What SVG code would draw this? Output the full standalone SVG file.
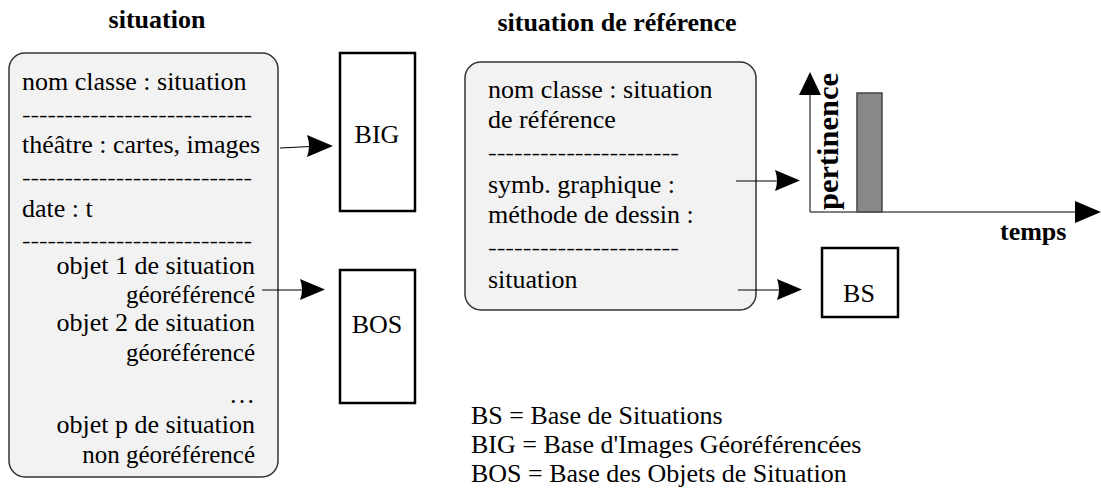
<svg xmlns="http://www.w3.org/2000/svg" width="1101" height="497" viewBox="0 0 1101 497" font-family="Liberation Serif, Times New Roman, serif" font-size="26">
<style>
.b{font-weight:bold}
.r{text-anchor:end}
.m{text-anchor:middle}
.g{font-size:25px}
.d{font-size:18px}
.cls{fill:#f2f2f2;stroke:#333;stroke-width:1.5}
.db{fill:#fff;stroke:#000;stroke-width:2.5}
.ln{stroke:#000;stroke-width:1.2;fill:none}
.ax{stroke:#555;stroke-width:1.5;fill:none}
.ah{fill:#000}
</style>
<rect width="1101" height="497" fill="#fff"/>
<text class="b m" x="157" y="28">situation</text>
<text class="b m" x="617" y="31">situation de référence</text>
<g id="situation">
<rect class="cls" x="9" y="53" width="269" height="424" rx="16"/>
<text x="22" y="90">nom classe : situation</text>
<text class="d" x="22" y="121" textLength="230" lengthAdjust="spacingAndGlyphs">---------------------------</text>
<text x="22" y="153">théâtre : cartes, images</text>
<text class="d" x="22" y="184" textLength="230" lengthAdjust="spacingAndGlyphs">---------------------------</text>
<text x="22" y="217">date : t</text>
<text class="d" x="22" y="247" textLength="230" lengthAdjust="spacingAndGlyphs">---------------------------</text>
<text class="r" x="255" y="274">objet 1 de situation</text>
<text class="r g" x="255" y="303">géoréférencé</text>
<text class="r" x="255" y="331">objet 2 de situation</text>
<text class="r g" x="255" y="361">géoréférencé</text>
<text class="r" x="255" y="403">…</text>
<text class="r" x="255" y="433">objet p de situation</text>
<text class="r g" x="255" y="463">non géoréférencé</text>
</g>
<g id="BIG">
<rect class="db" x="340" y="53" width="75" height="158"/>
<text class="m" x="377" y="143">BIG</text>
</g>
<g id="BOS">
<rect class="db" x="340" y="270" width="75" height="133"/>
<text class="m" x="377" y="333">BOS</text>
</g>
<g id="situation-de-reference">
<rect class="cls" x="465" y="62" width="291" height="248" rx="16"/>
<text x="488" y="98">nom classe : situation</text>
<text x="488" y="128">de référence</text>
<text class="d" x="488" y="159" textLength="191" lengthAdjust="spacingAndGlyphs">----------------------</text>
<text x="488" y="193">symb. graphique :</text>
<text x="488" y="223">méthode de dessin :</text>
<text class="d" x="488" y="254" textLength="191" lengthAdjust="spacingAndGlyphs">----------------------</text>
<text x="488" y="288">situation</text>
</g>
<g id="chart">
<rect x="857" y="93" width="25" height="119" fill="#888" stroke="#444" stroke-width="1.5"/>
<text class="b" transform="translate(838,210) rotate(-90)" font-size="30" textLength="137" lengthAdjust="spacingAndGlyphs">pertinence</text>
<line class="ax" x1="810" y1="212" x2="810" y2="92"/>
<path class="ah" d="M810,72 L821,95 L799,95 Z"/>
<line class="ax" x1="810" y1="212" x2="1077" y2="212"/>
<path class="ah" d="M1101,212 L1075,223 L1075,201 Z"/>
<text class="b" x="1000" y="240">temps</text>
</g>
<g id="BS">
<rect class="db" x="822" y="248" width="76" height="69"/>
<text class="m" x="859" y="302">BS</text>
</g>
<g id="connectors">
<line class="ln" x1="280" y1="148" x2="310" y2="146.5"/>
<path class="ah" d="M333,146 L307,157 Q311,146 307,135 Z"/>
<line class="ln" x1="262" y1="290" x2="302" y2="290"/>
<path class="ah" d="M325,289.5 L300,300 Q304,289.5 300,279 Z"/>
<line class="ln" x1="736" y1="181" x2="777" y2="181"/>
<path class="ah" d="M800,180.5 L775,191 Q779,180.5 775,170 Z"/>
<line class="ln" x1="738" y1="290" x2="779" y2="290"/>
<path class="ah" d="M802,289.5 L777,300 Q781,289.5 777,279 Z"/>
</g>
<g id="legend">
<text x="471" y="424">BS = Base de Situations</text>
<text x="471" y="453">BIG = Base d'Images Géoréférencées</text>
<text x="471" y="482">BOS = Base des Objets de Situation</text>
</g>
</svg>
